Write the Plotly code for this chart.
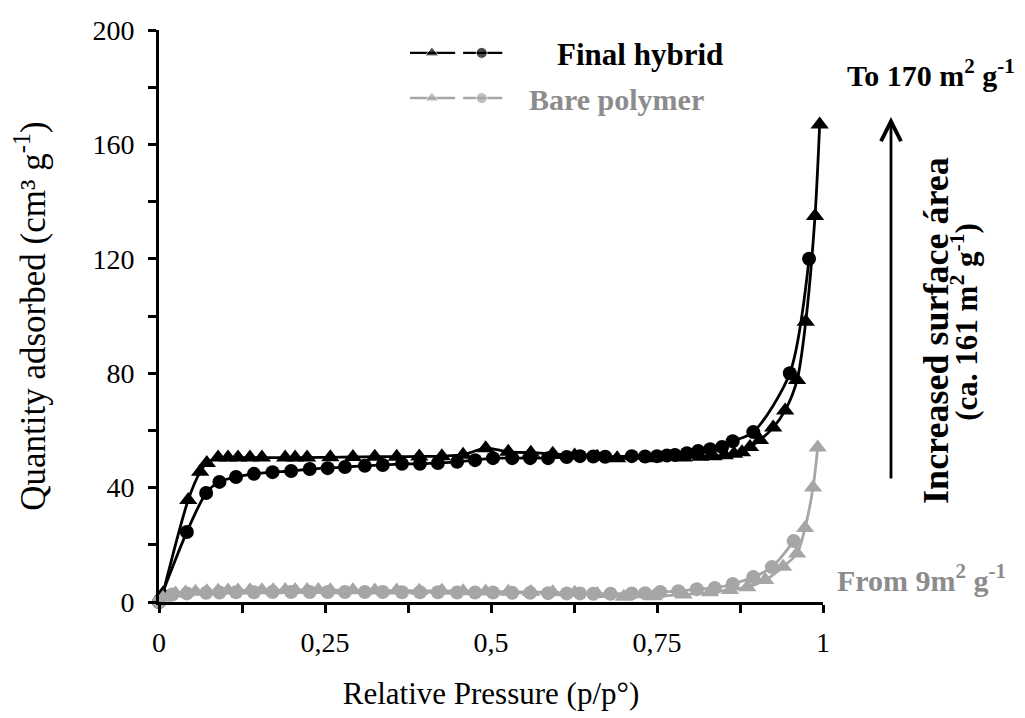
import plotly.graph_objects as go

# ---------------- data ----------------
hyb_ads_x = [0.006, 0.044, 0.062, 0.072, 0.089, 0.104, 0.119, 0.137, 0.155, 0.190, 0.205, 0.223,
             0.258, 0.292, 0.325, 0.358, 0.392, 0.426, 0.458, 0.492, 0.526, 0.560, 0.593, 0.626,
             0.660, 0.690, 0.745, 0.790, 0.815, 0.835, 0.852, 0.866, 0.878, 0.890, 0.905, 0.925,
             0.943, 0.961, 0.974, 0.988, 0.995]
hyb_ads_y = [3.0, 35.7, 45.5, 48.6, 50.5, 50.5, 50.5, 50.5, 50.5, 50.5, 50.5, 50.5,
             50.6, 50.7, 50.8, 50.8, 50.9, 51.0, 51.5, 53.8, 52.5, 52.2, 51.8, 51.2,
             50.8, 50.3, 50.3, 50.5, 50.8, 51.0, 51.3, 51.8, 52.4, 54.2, 56.6, 61.0,
             67.0, 77.6, 98.0, 135.0, 167.0]

hyb_des_x = [0.0, 0.042, 0.071, 0.091, 0.116, 0.143, 0.171, 0.199, 0.227, 0.254, 0.280, 0.310,
             0.337, 0.366, 0.393, 0.420, 0.449, 0.476, 0.503, 0.532, 0.559, 0.586, 0.614, 0.634,
             0.654, 0.672, 0.712, 0.732, 0.750, 0.765, 0.777, 0.795, 0.812, 0.830, 0.848, 0.864,
             0.895, 0.950, 0.979]
hyb_des_y = [0.0, 24.5, 38.1, 42.0, 43.7, 44.8, 45.4, 45.8, 46.5, 46.8, 47.2, 47.6,
             47.9, 48.3, 48.3, 48.6, 49.0, 49.6, 50.3, 50.3, 50.3, 50.3, 50.7, 51.0,
             50.9, 50.8, 51.0, 50.9, 51.0, 51.2, 51.4, 52.0, 52.8, 53.4, 54.2, 56.2,
             59.4, 80.0, 120.0]

bare_ads_x = [0.006, 0.025, 0.040, 0.055, 0.072, 0.089, 0.104, 0.119, 0.137, 0.155, 0.172, 0.190,
              0.205, 0.223, 0.240, 0.258, 0.292, 0.325, 0.358, 0.392, 0.426, 0.458, 0.492, 0.526,
              0.560, 0.593, 0.626, 0.660, 0.700, 0.745, 0.790, 0.830, 0.860, 0.886, 0.913, 0.940,
              0.961, 0.973, 0.985, 0.992]
bare_ads_y = [1.5, 3.0, 3.3, 3.6, 3.8, 3.9, 4.0, 4.0, 4.1, 4.1, 4.1, 4.2,
              4.2, 4.2, 4.2, 4.1, 4.1, 4.0, 4.0, 3.9, 3.9, 3.8, 3.7, 3.6,
              3.5, 3.4, 3.2, 2.8, 1.8, 2.0, 2.6, 3.4, 4.2, 5.2, 7.7, 12.3,
              17.0, 25.9, 40.0, 54.0]

bare_des_x = [0.0, 0.020, 0.042, 0.071, 0.091, 0.116, 0.143, 0.171, 0.199, 0.227, 0.254, 0.280,
              0.310, 0.337, 0.366, 0.393, 0.420, 0.449, 0.476, 0.503, 0.532, 0.559, 0.586, 0.614,
              0.634, 0.654, 0.680, 0.712, 0.732, 0.755, 0.782, 0.810, 0.837, 0.864, 0.895, 0.923,
              0.956]
bare_des_y = [0.0, 2.6, 3.0, 3.2, 3.3, 3.4, 3.4, 3.5, 3.5, 3.5, 3.5, 3.5,
              3.5, 3.5, 3.4, 3.4, 3.4, 3.3, 3.3, 3.3, 3.2, 3.2, 3.1, 3.0,
              3.0, 2.9, 2.9, 3.0, 3.1, 3.5, 3.8, 4.5, 4.9, 6.3, 8.7, 12.2,
              21.3]

x_tickvals = [0, 0.125, 0.25, 0.375, 0.5, 0.625, 0.75, 0.875, 1]
x_ticktext = ["0", "", "0,25", "", "0,5", "", "0,75", "", "1"]
y_tickvals = [0, 20, 40, 60, 80, 100, 120, 140, 160, 180, 200]
y_ticktext = ["0", "", "40", "", "80", "", "120", "", "160", "", "200"]

BLACK = "#000000"
GRAY = "#a6a6a6"
GRAY_TEXT = "#8c8c8c"
FONT = "Liberation Serif"

fig = go.Figure()


def add_series(x, y, color, symbol, size):
    fig.add_trace(go.Scatter(
        x=x, y=y, mode="lines+markers",
        line=dict(color=color, width=2.8, shape="spline", smoothing=0.8),
        marker=dict(symbol=symbol, size=size, color=color),
        cliponaxis=False, showlegend=False, hoverinfo="skip"))


add_series(hyb_ads_x, hyb_ads_y, BLACK, "triangle-up", 16)
add_series(hyb_des_x, hyb_des_y, BLACK, "circle", 14)
add_series(bare_ads_x, bare_ads_y, GRAY, "triangle-up", 16)
add_series(bare_des_x, bare_des_y, GRAY, "circle", 14)

# legend glyphs on a hidden overlay axis (0..1 of the plot area)
legend_rows = [(0.96, BLACK), (0.881, GRAY)]
for ly, col in legend_rows:
    fig.add_trace(go.Scatter(
        x=[0.378, 0.411, 0.446], y=[ly, ly, ly], xaxis="x2", yaxis="y2",
        mode="lines+markers", line=dict(color=col, width=2.4),
        marker=dict(symbol="triangle-up", size=[0, 12, 0], color=col),
        showlegend=False, hoverinfo="skip", cliponaxis=False))
    fig.add_trace(go.Scatter(
        x=[0.458, 0.486, 0.517], y=[ly, ly, ly], xaxis="x2", yaxis="y2",
        mode="lines+markers", line=dict(color=col, width=2.4),
        marker=dict(symbol="circle", size=[0, 11, 0], color=col),
        showlegend=False, hoverinfo="skip", cliponaxis=False))

axis_common = dict(showline=True, linewidth=2.8, linecolor=BLACK, ticks="outside",
                   ticklen=8, tickwidth=2.8, tickcolor=BLACK, showgrid=False,
                   zeroline=False, automargin=False,
                   tickfont=dict(family=FONT, size=28, color=BLACK))

# the page body adds an 8px offset, so the figure is 8px smaller and margins shifted
fig.update_layout(
    width=1017, height=710,
    margin=dict(l=151, r=202, t=22, b=116, autoexpand=False),
    paper_bgcolor="white", plot_bgcolor="white",
    font=dict(family=FONT, color=BLACK),
    xaxis=dict(range=[0, 1], tickvals=x_tickvals, ticktext=x_ticktext,
               ticklabelstandoff=5,
               title=dict(text="Relative Pressure (p/p°)", standoff=26,
                          font=dict(family=FONT, size=31, color=BLACK)),
               **axis_common),
    yaxis=dict(range=[0, 200], tickvals=y_tickvals, ticktext=y_ticktext,
               ticklabelstandoff=8,
               title=dict(text="Quantity adsorbed (cm³ g<sup>-1</sup>)", standoff=40,
                          font=dict(family=FONT, size=35, color=BLACK)),
               **axis_common),
    xaxis2=dict(range=[0, 1], overlaying="x", anchor="y2", visible=False),
    yaxis2=dict(range=[0, 1], overlaying="y", anchor="x2", visible=False),
    annotations=[
        dict(text="<b>Final hybrid</b>", x=0.596, y=0.958, xref="paper", yref="paper",
             xanchor="left", yanchor="middle", showarrow=False,
             font=dict(family=FONT, size=31, color=BLACK)),
        dict(text="<b>Bare polymer</b>", x=0.554, y=0.879, xref="paper", yref="paper",
             xanchor="left", yanchor="middle", showarrow=False,
             font=dict(family=FONT, size=30, color=GRAY_TEXT)),
        dict(text="<b>To 170 m<sup>2</sup> g<sup>-1</sup></b>", x=1.162, y=0.925,
             xref="paper", yref="paper", xanchor="center", yanchor="middle",
             showarrow=False, font=dict(family=FONT, size=30, color=BLACK)),
        dict(text="", x=1.1024, y=0.848, xref="paper", yref="paper",
             ax=0, ay=363, axref="pixel", ayref="pixel", showarrow=True,
             arrowhead=5, arrowsize=1.4, arrowwidth=2.8, arrowcolor=BLACK),
        dict(text="<b>Increased surface área</b>", x=1.170, y=0.4755,
             xref="paper", yref="paper", xanchor="center", yanchor="middle",
             textangle=-90, showarrow=False,
             font=dict(family=FONT, size=36, color=BLACK)),
        dict(text="<b>(ca. 161 m<sup>2</sup> g<sup>-1</sup>)</b>", x=1.212, y=0.4895,
             xref="paper", yref="paper", xanchor="center", yanchor="middle",
             textangle=-90, showarrow=False,
             font=dict(family=FONT, size=31, color=BLACK)),
        dict(text="<b>From 9m<sup>2</sup> g<sup>-1</sup></b>", x=1.148, y=0.042,
             xref="paper", yref="paper", xanchor="center", yanchor="middle",
             showarrow=False, font=dict(family=FONT, size=30, color=GRAY_TEXT)),
    ],
)

fig.write_html("out.html")
